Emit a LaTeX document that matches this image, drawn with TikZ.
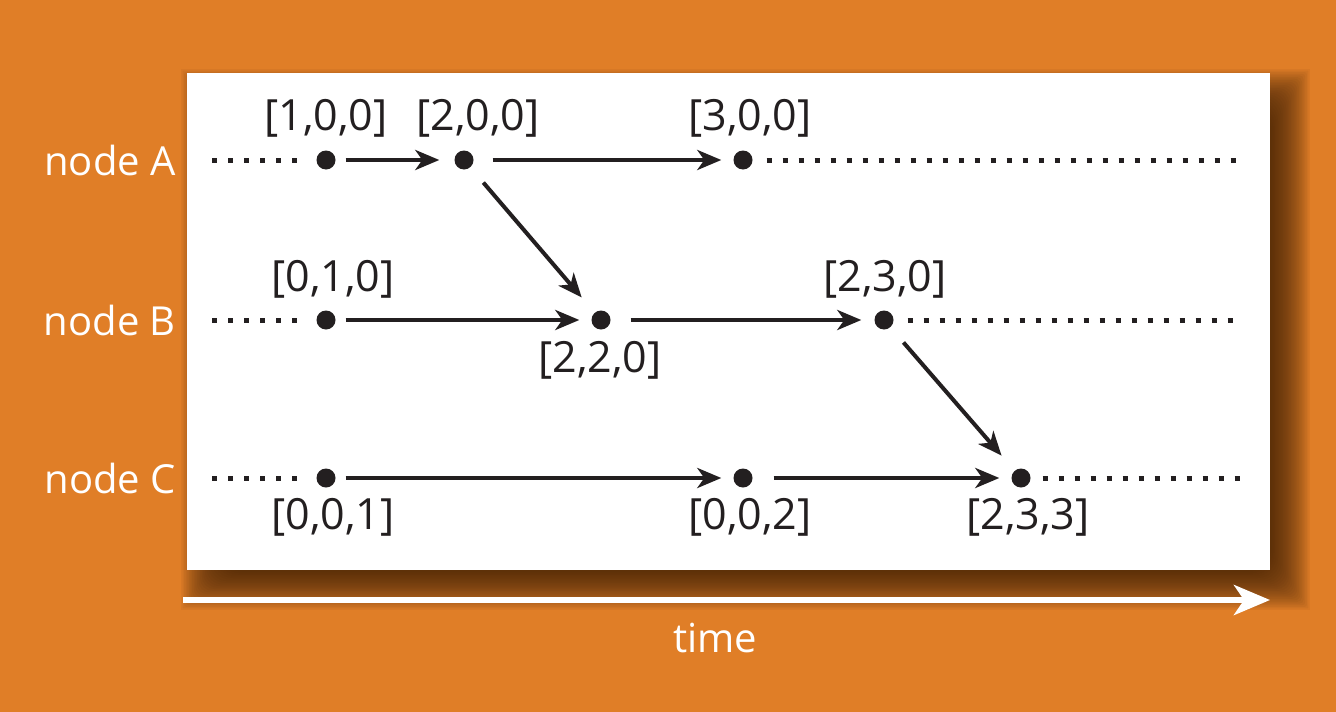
\documentclass[tikz,border=0pt]{standalone}
\usepackage{fontspec}
\setmainfont{Open Sans}
\usetikzlibrary{arrows.meta}
\definecolor{bgor}{HTML}{E07E27}
\definecolor{ink}{HTML}{231F20}
\definecolor{shad}{HTML}{3E2108}
\begin{document}
\begin{tikzpicture}[x=1pt,y=-1pt,
  ev/.style={circle,fill=ink,inner sep=0pt,minimum size=19pt},
  lbl/.style={text=ink,font=\fontsize{43}{50}\selectfont,inner sep=0pt},
  rowlbl/.style={text=white,font=\fontsize{40}{48}\selectfont,inner sep=0pt},
  msg/.style={draw=ink,line width=4pt,-{Stealth[length=24pt,width=20pt,inset=7pt]}},
  dots/.style={draw=ink,line width=5pt,dash pattern=on 5pt off 11pt}]
\useasboundingbox (0,0) rectangle (1336,712);
\fill[bgor] (0,0) rectangle (1336,712);
% shadow
\foreach \i in {0,...,24}{
  \fill[shad,opacity=0.055,rounded corners=\i pt] (205-24+1.6*\i,91-22+1.6*\i) rectangle (1288+22-1.6*\i,588+22-1.6*\i);
}
\fill[white] (187,73) rectangle (1270,570);
% row labels
\node[rowlbl,anchor=east] (la) at (176,160) {node A};
\node[rowlbl,anchor=east] (lb) at (176,320) {node B};
\node[rowlbl,anchor=east] (lc) at (176,478) {node C};
% events
\node[ev] (a1) at (326,160) {};
\node[ev] (a2) at (464,160) {};
\node[ev] (a3) at (743,160) {};
\node[ev] (b1) at (326,320) {};
\node[ev] (b2) at (601,320) {};
\node[ev] (b3) at (884,320) {};
\node[ev] (c1) at (326,478) {};
\node[ev] (c2) at (743,478) {};
\node[ev] (c3) at (1021,478) {};
% dotted ends
\coordinate (sa) at (212,160); \coordinate (ea) at (1242,160);
\coordinate (sb) at (212,320); \coordinate (eb) at (1242,320);
\coordinate (sc) at (212,478); \coordinate (ec) at (1242,478);
\draw[dots] (sa) -- ([xshift=-12pt]a1.west);
\draw[dots] (sb) -- ([xshift=-12pt]b1.west);
\draw[dots] (sc) -- ([xshift=-12pt]c1.west);
\draw[dots] ([xshift=14pt]a3.east) -- (ea);
\draw[dots] ([xshift=14pt]b3.east) -- (eb);
\draw[dots] ([xshift=12pt]c3.east) -- (ec);
% messages
\draw[msg,shorten <=10pt,shorten >=15pt] (a1) -- (a2);
\draw[msg,shorten <=19pt,shorten >=12pt] (a2) -- (a3);
\draw[msg,shorten <=10pt,shorten >=12pt] (b1) -- (b2);
\draw[msg,shorten <=20pt,shorten >=13pt] (b2) -- (b3);
\draw[msg,shorten <=10pt,shorten >=12pt] (c1) -- (c2);
\draw[msg,shorten <=21pt,shorten >=12pt] (c2) -- (c3);
\draw[msg,shorten <=20pt,shorten >=20pt] (a2) -- (b2);
\draw[msg,shorten <=20pt,shorten >=20pt] (b3) -- (c3);
% labels
\node[lbl] (ta1) at (326,118) {[1,0,0]};
\node[lbl] (ta2) at (478,118) {[2,0,0]};
\node[lbl] (ta3) at (750,118) {[3,0,0]};
\node[lbl] (tb1) at (333,279) {[0,1,0]};
\node[lbl] (tb2) at (600,360) {[2,2,0]};
\node[lbl] (tb3) at (885,279) {[2,3,0]};
\node[lbl] (tc1) at (333,517) {[0,0,1]};
\node[lbl] (tc2) at (750,517) {[0,0,2]};
\node[lbl] (tc3) at (1028,517) {[2,3,3]};
% time arrow
\coordinate (t0) at (183,600); \coordinate (t1) at (1270,600);
\draw[white,line width=6pt,-{Stealth[length=36pt,width=30pt,inset=10pt]}] (t0) -- (t1);
\node[rowlbl] (tt) at (715,638) {time};
\end{tikzpicture}
\end{document}
